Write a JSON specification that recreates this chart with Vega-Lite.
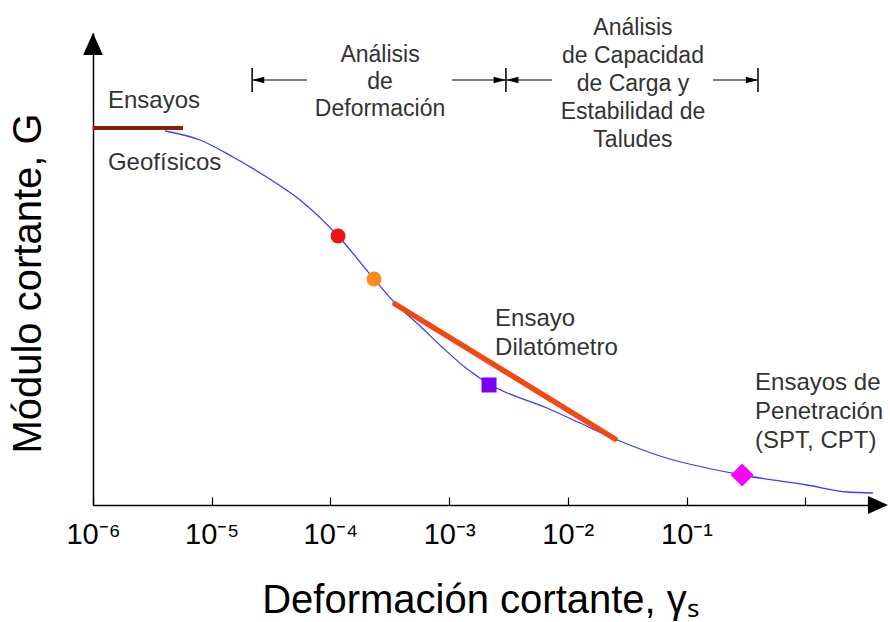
{
  "$schema": "https://vega.github.io/schema/vega-lite/v6.json",
  "width": 792,
  "height": 472,
  "autosize": {"type": "none"},
  "padding": {"left": 93, "right": 5, "top": 33, "bottom": 117},
  "background": "white",
  "config": {"view": {"stroke": null}, "font": "Liberation Sans"},
  "datasets": {
    "curve": [
      {"x": 4.05e-6, "g": 374},
      {"x": 7.96e-6, "g": 365},
      {"x": 1.51e-5, "g": 348},
      {"x": 2.9e-5, "g": 328},
      {"x": 5.55e-5, "g": 305},
      {"x": 1.16e-4, "g": 269},
      {"x": 2.33e-4, "g": 226},
      {"x": 3.5e-4, "g": 202},
      {"x": 5.69e-4, "g": 179},
      {"x": 8.89e-4, "g": 157},
      {"x": 1.42e-3, "g": 136},
      {"x": 2.25e-3, "g": 120},
      {"x": 6.68e-3, "g": 97},
      {"x": 0.01268, "g": 82},
      {"x": 0.025, "g": 66},
      {"x": 0.0598, "g": 49},
      {"x": 0.294, "g": 30},
      {"x": 1.035, "g": 20},
      {"x": 2.25, "g": 13},
      {"x": 3.72, "g": 12}
    ],
    "geofisicos": [{"x": 1e-6, "g": 377}, {"x": 5.73e-6, "g": 377}],
    "dilatometro": [{"x": 3.5e-4, "g": 201}, {"x": 0.025, "g": 66}],
    "marcadores": [
      {"x": 1.16e-4, "g": 269, "kind": "A"},
      {"x": 2.33e-4, "g": 226, "kind": "B"},
      {"x": 2.17e-3, "g": 120, "kind": "C"},
      {"x": 0.294, "g": 30, "kind": "D"}
    ],
    "cotas": [
      {"x": 2.19e-5, "x2": 6.35e-5, "g": 425},
      {"x": 1.06e-3, "x2": 3.01e-3, "g": 425},
      {"x": 3.01e-3, "x2": 7.36e-3, "g": 425},
      {"x": 0.167, "x2": 0.40, "g": 425}
    ],
    "cotasTicks": [
      {"x": 2.19e-5, "g": 413, "g2": 437},
      {"x": 3.01e-3, "g": 413, "g2": 437},
      {"x": 0.40, "g": 413, "g2": 437}
    ],
    "flechasIzq": [{"x": 2.45e-5, "g": 425}, {"x": 3.39e-3, "g": 425}],
    "flechasDer": [{"x": 2.68e-3, "g": 425}, {"x": 0.357, "g": 425}],
    "ejeY": [{"x": 1e-6, "g": 461}],
    "ejeX": [{"x": 4.1, "g": 0}],
    "textosCentro": [
      {"x": 2.62e-4, "g": 450, "t": "Análisis\nde\nDeformación", "lh": "a"},
      {"x": 0.0354, "g": 477, "t": "Análisis\nde Capacidad\nde Carga y\nEstabilidad de\nTaludes", "lh": "b"}
    ],
    "textosIzq": [
      {"x": 1.336e-6, "g": 404, "t": "Ensayos"},
      {"x": 1.336e-6, "g": 342, "t": "Geofísicos"},
      {"x": 2.44e-3, "g": 186, "t": "Ensayo\nDilatómetro"},
      {"x": 0.378, "g": 122, "t": "Ensayos de\nPenetración\n(SPT, CPT)"}
    ]
  },
  "encoding": {
    "x": {
      "field": "x",
      "type": "quantitative",
      "scale": {"type": "log", "domain": [1e-6, 4.7], "nice": false},
      "axis": {
        "values": [1e-6, 1e-5, 1e-4, 1e-3, 1e-2, 1e-1, 1],
        "labelExpr": "datum.value >= 0.5 ? '' : '10' + ['⁻⁶','⁻⁵','⁻⁴','⁻³','⁻²','⁻¹'][round(log(datum.value)/LN10) + 6]",
        "title": "Deformación cortante, γₛ",
        "titleFontSize": 40,
        "titleFontWeight": "normal",
        "titleColor": "black",
        "titleX": 387,
        "titleY": 95,
        "titleBaseline": "middle",
        "titleAlign": "center",
        "domainColor": "black",
        "domainWidth": 1.5,
        "tickColor": "black",
        "tickSize": -8,
        "tickWidth": 1.2,
        "labelFontSize": 29,
        "labelColor": "black",
        "labelPadding": 23,
        "labelFlush": false,
        "labelOverlap": false,
        "grid": false
      }
    },
    "y": {
      "field": "g",
      "type": "quantitative",
      "scale": {"domain": [0, 472], "nice": false, "zero": false},
      "axis": {
        "title": "Módulo cortante, G",
        "ticks": false,
        "labels": false,
        "grid": false,
        "domainColor": "black",
        "domainWidth": 1.5,
        "titleFontSize": 40,
        "titleFontWeight": "normal",
        "titleColor": "black",
        "titleAngle": -90,
        "titleX": -45,
        "titleY": 250,
        "titleBaseline": "bottom",
        "titleAlign": "center"
      }
    }
  },
  "layer": [
    {
      "data": {"name": "curve"},
      "mark": {"type": "line", "color": "#3c3cff", "strokeWidth": 1.3, "interpolate": "monotone"}
    },
    {
      "data": {"name": "geofisicos"},
      "mark": {"type": "line", "color": "#8b1e05", "strokeWidth": 4}
    },
    {
      "data": {"name": "dilatometro"},
      "mark": {"type": "line", "color": "#f24812", "strokeWidth": 5.5, "strokeCap": "round"}
    },
    {
      "data": {"name": "marcadores"},
      "transform": [{"filter": "datum.kind != 'D'"}],
      "mark": {"type": "point", "filled": true, "opacity": 1, "strokeWidth": 0, "size": 225},
      "encoding": {
        "color": {"field": "kind", "type": "nominal", "scale": {"domain": ["A", "B", "C"], "range": ["#f01515", "#ff8a1c", "#7b00ff"]}, "legend": null},
        "shape": {"field": "kind", "type": "nominal", "scale": {"domain": ["A", "B", "C"], "range": ["circle", "circle", "square"]}, "legend": null}
      }
    },
    {
      "data": {"name": "marcadores"},
      "transform": [{"filter": "datum.kind == 'D'"}],
      "mark": {"type": "point", "shape": "diamond", "filled": true, "opacity": 1, "strokeWidth": 0, "size": 530, "color": "#ff00ff"}
    },
    {
      "data": {"name": "cotas"},
      "mark": {"type": "rule", "color": "black", "strokeWidth": 1.2},
      "encoding": {"x2": {"field": "x2"}}
    },
    {
      "data": {"name": "cotasTicks"},
      "mark": {"type": "rule", "color": "black", "strokeWidth": 1.5},
      "encoding": {"y2": {"field": "g2"}}
    },
    {
      "data": {"name": "flechasIzq"},
      "mark": {"type": "point", "shape": "M-1,0L1,-0.5L1,0.5Z", "filled": true, "color": "black", "opacity": 1, "size": 160, "strokeWidth": 0}
    },
    {
      "data": {"name": "flechasDer"},
      "mark": {"type": "point", "shape": "M1,0L-1,-0.5L-1,0.5Z", "filled": true, "color": "black", "opacity": 1, "size": 160, "strokeWidth": 0}
    },
    {
      "data": {"name": "ejeY"},
      "mark": {"type": "point", "shape": "M0,-1L0.9,1L-0.9,1Z", "filled": true, "color": "black", "opacity": 1, "size": 484, "strokeWidth": 0}
    },
    {
      "data": {"name": "ejeX"},
      "mark": {"type": "point", "shape": "M1,0L-1,-0.9L-1,0.9Z", "filled": true, "color": "black", "opacity": 1, "size": 400, "strokeWidth": 0}
    },
    {
      "data": {"name": "textosCentro"},
      "transform": [{"filter": "datum.lh == 'a'"}],
      "mark": {"type": "text", "align": "center", "baseline": "middle", "fontSize": 23, "lineHeight": 27, "lineBreak": "\n", "color": "#333333"},
      "encoding": {"text": {"field": "t", "type": "nominal"}}
    },
    {
      "data": {"name": "textosCentro"},
      "transform": [{"filter": "datum.lh == 'b'"}],
      "mark": {"type": "text", "align": "center", "baseline": "middle", "fontSize": 23, "lineHeight": 28, "lineBreak": "\n", "color": "#333333"},
      "encoding": {"text": {"field": "t", "type": "nominal"}}
    },
    {
      "data": {"name": "textosIzq"},
      "mark": {"type": "text", "align": "left", "baseline": "middle", "fontSize": 24, "lineHeight": 29, "lineBreak": "\n", "color": "#333333"},
      "encoding": {"text": {"field": "t", "type": "nominal"}}
    }
  ]
}
